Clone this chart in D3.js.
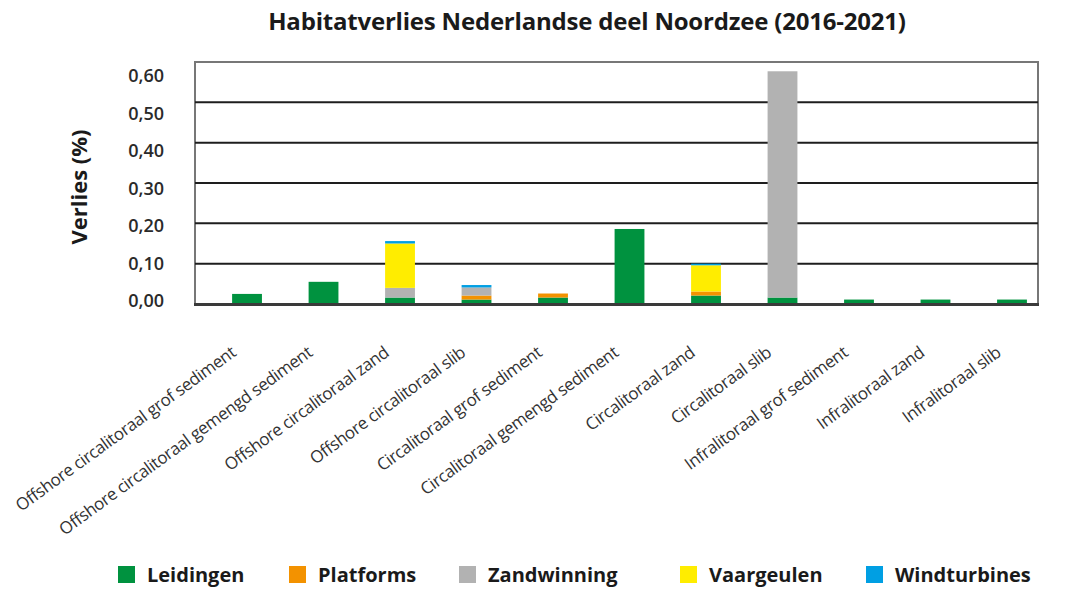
<!DOCTYPE html>
<html>
<head>
<meta charset="utf-8">
<script src="https://cdn.jsdelivr.net/npm/d3@7"></script>
<style>
	body { margin: 0; background: #fff; }
	svg { display: block; font-family: "Open Sans", sans-serif; }
</style>
</head>
<body>
<svg id="chart" width="1069" height="594"></svg>
<script>
var categories = [
	"Offshore circalitoraal grof sediment",
	"Offshore circalitoraal gemengd sediment",
	"Offshore circalitoraal zand",
	"Offshore circalitoraal slib",
	"Circalitoraal grof sediment",
	"Circalitoraal gemengd sediment",
	"Circalitoraal zand",
	"Circalitoraal slib",
	"Infralitoraal grof sediment",
	"Infralitoraal zand",
	"Infralitoraal slib"
];
var seriesNames = ["Leidingen", "Platforms", "Zandwinning", "Vaargeulen", "Windturbines"];
var seriesColors = ["#00923f", "#f39200", "#b2b2b2", "#ffed00", "#009fe3"];

var leidingen    = [0.025, 0.055, 0.016, 0.011, 0.016, 0.186, 0.021, 0.016, 0.011, 0.011, 0.011];
var platforms    = [0, 0, 0, 0.010, 0.010, 0, 0.010, 0, 0, 0, 0];
var zandwinning  = [0, 0, 0.024, 0.020, 0, 0, 0, 0.561, 0, 0, 0];
var vaargeulen   = [0, 0, 0.110, 0, 0, 0, 0.065, 0, 0, 0, 0];
var windturbines = [0, 0, 0.006, 0.006, 0, 0, 0.004, 0, 0, 0, 0];

var yTicks = [0, 0.1, 0.2, 0.3, 0.4, 0.5, 0.6];

var svg = d3.select("#chart");
var plotLeft = 195, plotRight = 1038, plotTop = 62, plotBottom = 304;

function buildRows() {
	var rows = [];
	for (var ii = 0; ii < categories.length; ++ii) {
		rows.push({
			name: categories[ii],
			Leidingen: leidingen[ii],
			Platforms: platforms[ii],
			Zandwinning: zandwinning[ii],
			Vaargeulen: vaargeulen[ii],
			Windturbines: windturbines[ii]
		});
	}
	return rows;
}

var x = d3.scaleBand().domain(categories).range([plotLeft, plotRight])
	.paddingInner(0.61).paddingOuter(0.315).align(0.77);
var y = d3.scaleLinear().domain([0, 0.6]).range([plotBottom, plotTop]);
// tick labels in the original sit a bit closer together than the gridlines
var yLabel = d3.scaleLinear().domain([0, 0.6]).range([301, 76]);
var fmt = function(d) { return d3.format(".2f")(d).replace(".", ","); };

function drawTitle() {
	svg.append("text")
		.attr("x", 587)
		.attr("y", 30)
		.attr("text-anchor", "middle")
		.style("font-size", "24px")
		.style("font-weight", "bold")
		.style("letter-spacing", "-0.2px")
		.style("fill", "#1a1a1a")
		.text("Habitatverlies Nederlandse deel Noordzee (2016-2021)");
}

function drawFrame() {
	svg.append("rect")
		.attr("x", plotLeft)
		.attr("y", plotTop)
		.attr("width", plotRight - plotLeft)
		.attr("height", plotBottom - plotTop)
		.attr("fill", "none")
		.attr("stroke", "#777")
		.attr("stroke-width", 2);

	svg.selectAll("line.grid")
		.data(yTicks.slice(1, yTicks.length - 1))
		.enter()
		.append("line")
		.attr("class", "grid")
		.attr("x1", plotLeft)
		.attr("x2", plotRight)
		.attr("y1", function(d) { return y(d); })
		.attr("y2", function(d) { return y(d); })
		.attr("stroke", "#1e1e1e")
		.attr("stroke-width", 2);
}

function drawBars() {
	var stack = d3.stack().keys(seriesNames);
	var layers = stack(buildRows());
	svg.selectAll("g.layer")
		.data(layers)
		.enter()
		.append("g")
		.attr("class", "layer")
		.attr("fill", function(d, i) { return seriesColors[i]; })
		.selectAll("rect")
		.data(function(d) { return d; })
		.enter()
		.append("rect")
		.attr("x", function(d) { return x(d.data.name); })
		.attr("width", x.bandwidth())
		.attr("y", function(d) { return y(d[1]); })
		.attr("height", function(d) { return y(d[0]) - y(d[1]); });

	svg.append("line")
		.attr("x1", plotLeft - 1)
		.attr("x2", plotRight + 1)
		.attr("y1", plotBottom + 0.5)
		.attr("y2", plotBottom + 0.5)
		.attr("stroke", "#3a3a3a")
		.attr("stroke-width", 3);
}

function drawAxes() {
	svg.selectAll("text.ytick")
		.data(yTicks)
		.enter()
		.append("text")
		.attr("class", "ytick")
		.attr("x", 164)
		.attr("y", function(d) { return yLabel(d); })
		.attr("dy", "0.35em")
		.attr("text-anchor", "end")
		.style("font-size", "18px")
		.style("font-weight", 600)
		.style("fill", "#2a2a2a")
		.text(fmt);

	svg.append("text")
		.attr("transform", "translate(87,187) rotate(-90)")
		.attr("text-anchor", "middle")
		.style("font-size", "22px")
		.style("font-weight", "bold")
		.style("fill", "#1a1a1a")
		.text("Verlies (%)");

	svg.selectAll("text.xtick")
		.data(categories)
		.enter()
		.append("text")
		.attr("class", "xtick")
		.attr("transform", function(d) {
			return "translate(" + (x(d) + x.bandwidth() / 2 - 10) + ",355) rotate(-36)";
		})
		.attr("text-anchor", "end")
		.style("font-size", "17px")
		.style("letter-spacing", "-0.4px")
		.style("fill", "#333")
		.text(function(d) { return d; });
}

function drawLegend() {
	var legendX = [118, 289, 459, 680, 866];
	var items = svg.selectAll("g.legend")
		.data(seriesNames)
		.enter()
		.append("g")
		.attr("class", "legend")
		.attr("transform", function(d, i) { return "translate(" + legendX[i] + ",566)"; });
	items.append("rect")
		.attr("width", 17)
		.attr("height", 17)
		.attr("fill", function(d, i) { return seriesColors[i]; });
	items.append("text")
		.attr("x", 29)
		.attr("y", 9)
		.attr("dy", "0.35em")
		.style("font-size", "20px")
		.style("font-weight", "bold")
		.style("fill", "#1a1a1a")
		.text(function(d) { return d; });
}

drawTitle();
drawFrame();
drawBars();
drawAxes();
drawLegend();
</script>
</body>
</html>
